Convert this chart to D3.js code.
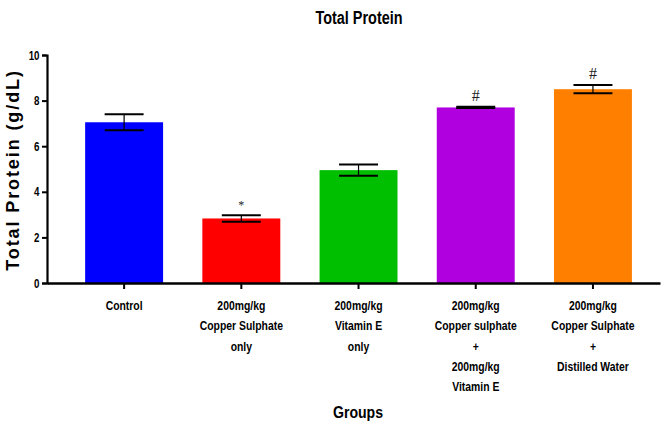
<!DOCTYPE html>
<html>
<head>
<meta charset="utf-8">
<script src="https://cdn.jsdelivr.net/npm/d3@7"></script>
<style>
  html, body { margin: 0; padding: 0; background: #fff; }
  svg { display: block; }
  text { font-family: "Liberation Sans", Arial, sans-serif; font-weight: bold; fill: #000; }
</style>
</head>
<body>
<svg id="chart" width="668" height="430"></svg>
<script>
// Group labels (each line of the tick label as its own entry)
const groups = [
  ["Control"],
  ["200mg/kg", "Copper Sulphate", "only"],
  ["200mg/kg", "Vitamin E", "only"],
  ["200mg/kg", "Copper sulphate", "+", "200mg/kg", "Vitamin E"],
  ["200mg/kg", "Copper Sulphate", "+", "Distilled Water"]
];
const groupKeys = ["g1", "g2", "g3", "g4", "g5"];
// Mean total protein (g/dL) and standard error per group
const means = [7.05, 2.83, 4.95, 7.70, 8.50];
const errors = [0.35, 0.14, 0.25, 0.03, 0.18];
const marks = ["", "*", "", "#", "#"];
const colors = ["#0000ff", "#ff0000", "#00bf00", "#b000e0", "#ff8000"];
const yTicks = [0, 2, 4, 6, 8, 10];

const svg = d3.select("#chart");
const plotLeft = 47, plotRight = 660, plotTop = 55, plotBottom = 283;

const x = d3.scaleBand()
  .domain(groupKeys)
  .range([plotLeft, plotRight])
  .paddingInner(0.335)
  .paddingOuter(0.2825)
  .align(0.576);

const y = d3.scaleLinear().domain([0, 10]).range([plotBottom, plotTop]);

// condensed text: horizontally squeezed glyphs
function narrowText(g, tx, ty, str, size, sx) {
  return g.append("text")
    .attr("transform", `translate(${tx},${ty}) scale(${sx},1)`)
    .attr("text-anchor", "middle")
    .attr("font-size", size)
    .text(str);
}

// Bars
svg.append("g").selectAll("rect")
  .data(means)
  .join("rect")
  .attr("x", (d, i) => x(groupKeys[i]))
  .attr("width", x.bandwidth())
  .attr("y", d => y(d))
  .attr("height", d => y(0) - y(d))
  .attr("fill", (d, i) => colors[i]);

// Error bars
const capW = x.bandwidth() / 2;
const eb = svg.append("g").attr("stroke", "#000").attr("stroke-width", 2);
means.forEach((m, i) => {
  const cx = x(groupKeys[i]) + x.bandwidth() / 2;
  eb.append("line").attr("x1", cx).attr("x2", cx)
    .attr("y1", y(m + errors[i])).attr("y2", y(m - errors[i])).attr("stroke-width", 1.2);
  eb.append("line").attr("x1", cx - capW / 2).attr("x2", cx + capW / 2)
    .attr("y1", y(m + errors[i])).attr("y2", y(m + errors[i]));
  eb.append("line").attr("x1", cx - capW / 2).attr("x2", cx + capW / 2)
    .attr("y1", y(m - errors[i])).attr("y2", y(m - errors[i]));
});

// Significance marks
svg.append("g").selectAll("text")
  .data(marks)
  .join("text")
  .attr("x", (d, i) => x(groupKeys[i]) + x.bandwidth() / 2)
  .attr("y", (d, i) => y(means[i] + errors[i]) - 6)
  .attr("text-anchor", "middle")
  .style("font-family", "Liberation Serif, serif")
  .style("font-weight", "normal")
  .style("fill", "#222")
  .attr("font-size", (d) => d === "*" ? 12 : 16)
  .text(d => d);

// Y axis
const yAxis = svg.append("g")
  .attr("transform", `translate(${plotLeft},0)`)
  .call(d3.axisLeft(y).tickValues(yTicks).tickSize(5).tickPadding(5).tickFormat(d3.format("d")));
yAxis.select(".domain").attr("stroke-width", 2.2);
yAxis.selectAll(".tick line").attr("stroke-width", 2);
yAxis.selectAll(".tick text")
  .attr("font-size", 13)
  .attr("font-family", null)
  .attr("transform", "scale(0.75,1)");

// X axis
const xAxis = svg.append("g")
  .attr("transform", `translate(0,${plotBottom})`)
  .call(d3.axisBottom(x).tickSize(6).tickSizeOuter(0).tickFormat(""));
xAxis.select(".domain").attr("stroke-width", 2.5);
xAxis.selectAll(".tick line").attr("stroke-width", 2);

// Multi-line group labels
const lab = svg.append("g");
groups.forEach((lines, i) => {
  const cx = x(groupKeys[i]) + x.bandwidth() / 2;
  lines.forEach((t, j) => narrowText(lab, cx, 310 + j * 20.3, t, 13, 0.8));
});

// Titles
narrowText(svg, 359, 24, "Total Protein", 19, 0.76);
narrowText(svg, 358, 418, "Groups", 17, 0.83);

svg.append("text")
  .attr("transform", "translate(19,170) rotate(-90)")
  .attr("text-anchor", "middle")
  .attr("font-size", 18)
  .attr("letter-spacing", 1.9)
  .text("Total Protein (g/dL)");
</script>
</body>
</html>
